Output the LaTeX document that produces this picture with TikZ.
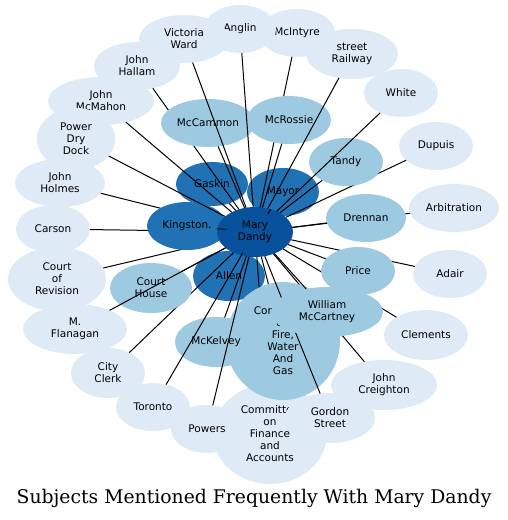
\documentclass[tikz,border=0pt]{standalone}
\usepackage{fontspec}
\usepackage{tikz}
\usetikzlibrary{shapes.geometric,backgrounds}
\newfontfamily\labelfont{DejaVu Sans}
\newfontfamily\titlefont{DejaVu Serif}
\definecolor{DeepBlue}{HTML}{08519C}
\definecolor{MidBlue}{HTML}{2171B5}
\definecolor{PaleBlue}{HTML}{9ECAE1}
\definecolor{FaintBlue}{HTML}{DEEBF7}

\begin{document}
\begin{tikzpicture}[x=1pt,y=-1pt,
    every node/.style={font=\labelfont\fontsize{10.5}{12}\selectfont,
      align=center, inner sep=0pt, outer sep=0pt, text=black},
    bub/.style 2 args={ellipse, minimum width=#1pt, minimum height=#2pt},
    far/.style={fill=FaintBlue},
    near/.style={fill=PaleBlue},
    close/.style={fill=MidBlue},
    hub/.style={fill=DeepBlue},
    ar/.style={black,line width=1pt}]
  \useasboundingbox (0,0) rectangle (508,520);
  % outer ring
  \node[bub={114}{100}, far] (cfinance) at (270,434)
    {Committee\\on\\Finance\\and\\Accounts};
  \node[bub={90}{50}, far] (gordon) at (330,418) {Gordon\\Street};
  \node[bub={106}{50}, far] (creighton) at (384,385) {John\\Creighton};
  \node[bub={84}{50}, far] (clements) at (426,335) {Clements};
  \node[bub={74}{48}, far] (adair) at (450,274) {Adair};
  \node[bub={90}{48}, far] (arbitration) at (454,208) {Arbitration};
  \node[bub={74}{48}, far] (dupuis) at (436,146) {Dupuis};
  \node[bub={74}{48}, far] (white) at (401,93) {White};
  \node[bub={92}{50}, far] (railway) at (352,54) {street\\Railway};
  \node[bub={76}{48}, far] (mcintyre) at (297,33) {McIntyre};
  \node[bub={72}{48}, far] (anglin) at (240,29) {Anglin};
  \node[bub={90}{48}, far] (victoria) at (184,39) {Victoria\\Ward};
  \node[bub={86}{48}, far] (hallam) at (137,66) {John\\Hallam};
  \node[bub={106}{48}, far] (mcmahon) at (101,101) {John\\McMahon};
  \node[bub={78}{62}, far] (drydock) at (76,139) {Power\\Dry\\Dock};
  \node[bub={90}{48}, far] (holmes) at (60,183) {John\\Holmes};
  \node[bub={74}{48}, far] (carson) at (53,229) {Carson};
  \node[bub={98}{64}, far] (revision) at (57,279) {Court\\of\\Revision};
  \node[bub={104}{50}, far] (flanagan) at (75,329) {M.\\Flanagan};
  \node[bub={74}{50}, far] (cityclerk) at (108,373) {City\\Clerk};
  \node[bub={74}{48}, far] (toronto) at (153,407) {Toronto};
  \node[bub={72}{48}, far] (powers) at (207,429) {Powers};
  % second ring and hub
  \node[bub={72}{44}, close] (gaskin) at (212,184) {Gaskin};
  \node[bub={72}{48}, close] (mayor) at (283,192) {Mayor};
  \node[bub={80}{48}, close] (kingston) at (187,226) {Kingston.};
  \node[bub={72}{50}, close] (allen) at (229,276) {Allen};
  \node[bub={76}{50}, hub] (md) at (255,232) {Mary\\Dandy};
  \foreach \n in {hallam,mcintyre,dupuis,arbitration,adair,clements,
      creighton,cityclerk,cfinance}
    \draw[ar] (md) -- (\n);
  % third ring
  \node[bub={94}{48}, near] (mccammon) at (208,123) {McCammon};
  \node[bub={84}{48}, near] (mcrossie) at (289,120) {McRossie};
  \node[bub={74}{48}, near] (tandy) at (346,162) {Tandy};
  \node[bub={80}{48}, near] (drennan) at (366,218) {Drennan};
  \node[bub={74}{48}, near] (price) at (358,271) {Price};
  \node[bub={82}{50}, near] (courthouse) at (151,288) {Court\\House};
  \node[bub={114}{118}, near] (cfire) at (283,341)
    {Committee\\on\\Fire,\\Water\\And\\Gas};
  \node[bub={82}{50}, near] (mckelvey) at (216,342) {McKelvey};
  \draw[ar] (md) -- (gordon);
  \node[bub={112}{50}, near] (mccartney) at (327,312) {William\\McCartney};
  \foreach \n in {anglin,victoria,mcmahon,drydock,flanagan,toronto,powers,
      white,railway,mccammon,mcrossie,tandy,drennan,price,mccartney,cfire,
      mckelvey,courthouse,gaskin,mayor,kingston,allen}
    \draw[ar] (md) -- (\n);
  \begin{pgfonlayer}{background}
    \foreach \n in {carson,holmes,revision}
      \draw[ar] (md) -- (\n);
  \end{pgfonlayer}
  \node[font=\titlefont\fontsize{18.8}{22}\selectfont, anchor=base] (title)
    at (254,503) {Subjects Mentioned Frequently With Mary Dandy};
\end{tikzpicture}
\end{document}
